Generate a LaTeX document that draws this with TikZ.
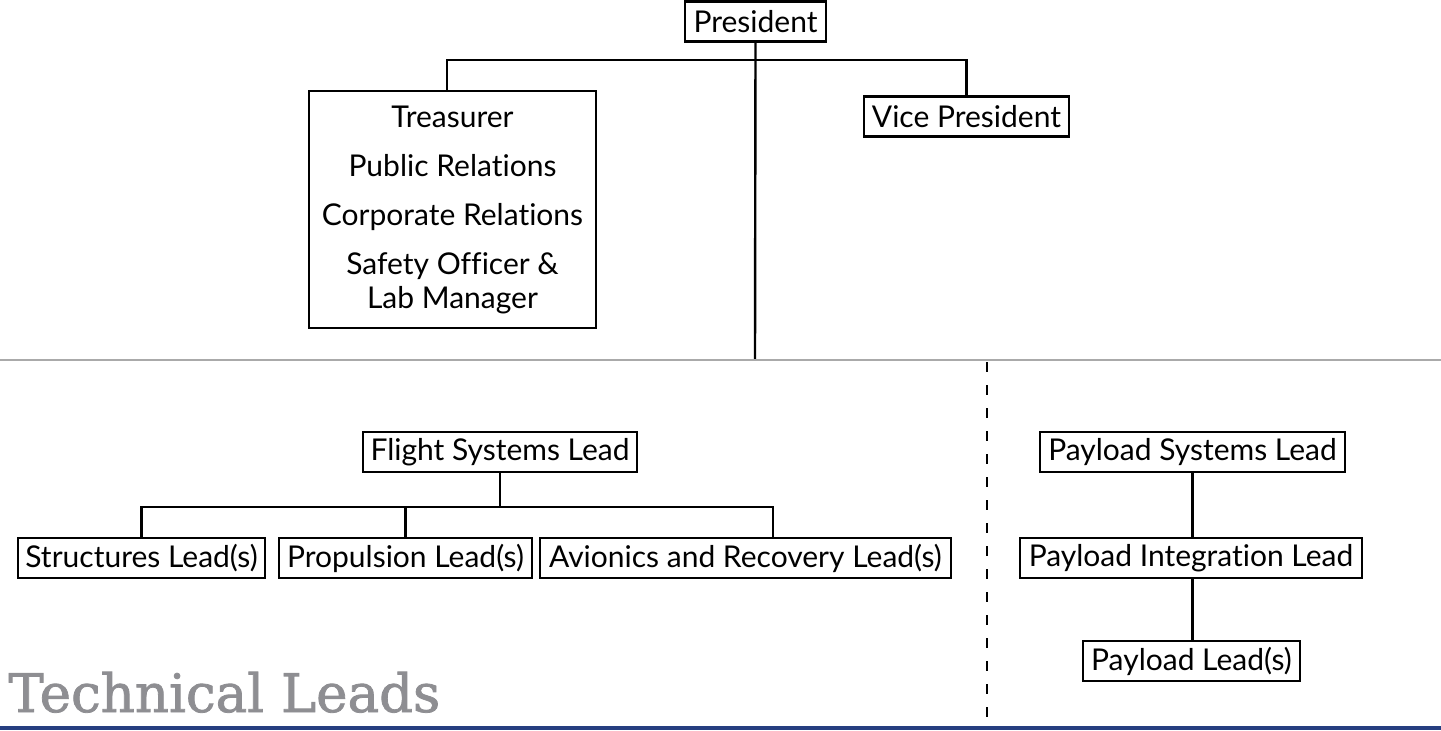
\documentclass[tikz,border=0pt]{standalone}
\usepackage{fontspec}
\setmainfont{Lato}[Ligatures=NoCommon]
\newfontfamily\slabfont{DejaVu Serif}[FakeBold=1.5]
\usetikzlibrary{positioning}
\definecolor{rulegray}{RGB}{170,170,170}
\definecolor{titlegray}{RGB}{142,142,146}
\definecolor{barblue}{RGB}{38,62,128}
\begin{document}
\begin{tikzpicture}[
    x=0.5pt, y=-0.5pt,
    font=\fontsize{15}{24.5}\selectfont,
    box/.style={
        draw,
        line width=1.2pt,
        align=center,
        minimum height=20pt,
        inner xsep=2pt,
        inner ysep=2pt
    },
    link/.style={line width=1.2pt},
    divider/.style={rulegray, line width=1.4pt},
    split/.style={line width=1.1pt, dash pattern=on 5pt off 6.5pt}
]
\useasboundingbox (0,0) rectangle (1441,730);

% top level
\node[box, minimum width=70.5pt] (pres) at (755.5,21.5) {President};
\node[box, minimum width=143.5pt, minimum height=118.5pt] (staff) at (452.5,209.5)
    {Treasurer\\Public Relations\\Corporate Relations\\Safety Officer \&\\[-7.5pt]Lab Manager};
\node[box, minimum width=102.5pt] (vp) at (966.5,116.5) {Vice President};

\coordinate (top) at (755,60);
\coordinate (base) at (755,360);
\draw[link] (pres.south) -- (base);
\draw[link] ([xshift=-2.75pt]staff.north) |- (top) -| (vp.north);

% section rule and split
\draw[divider] (0,360) -- (1441,360);
\coordinate (cut) at (987,362);
\coordinate (cutend) at (987,722);
\draw[split] (cut) -- (cutend);

% flight systems
\node[box, minimum width=137pt] (flight) at (500,452) {Flight Systems Lead};
\node[box, minimum width=123.5pt] (struct) at (141.5,558) {Structures Lead(s)};
\node[box, minimum width=126.5pt] (prop) at (405.5,558) {Propulsion Lead(s)};
\node[box, minimum width=205.5pt] (avion) at (745.5,558) {Avionics and Recovery Lead(s)};

\coordinate (fork) at (500,507);
\coordinate (afork) at (773,507);
\draw[link] (flight.south) -- (fork);
\draw[link] (struct.north) |- (afork) -- (afork |- avion.north);
\draw[link] (prop.north) -- (prop.north |- fork);

% payload systems
\node[box, minimum width=152.5pt] (payload) at (1192.5,452) {Payload Systems Lead};
\node[box, minimum width=171pt] (integ) at (1191,558) {Payload Integration Lead};
\node[box, minimum width=108.5pt] (plead) at (1191.5,661) {Payload Lead(s)};

\draw[link] (payload.south) -- (payload.south |- integ.north);
\draw[link] (payload.south |- integ.south) -- (payload.south |- plead.north);

% footer
\node[anchor=base west, inner sep=0pt, text=titlegray,
      font=\slabfont\fontsize{26.5}{26.5}\selectfont] (title) at (8,712) {Technical Leads};
\fill[barblue] (0,726) rectangle (1441,730);
\end{tikzpicture}
\end{document}
